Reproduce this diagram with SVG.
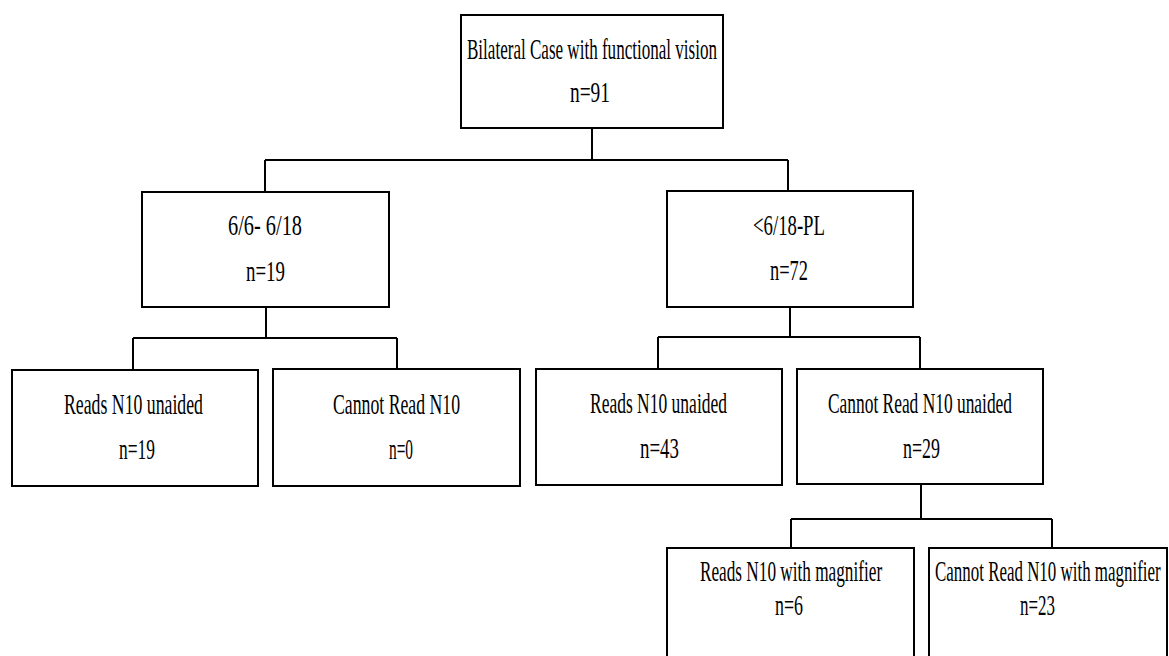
<svg xmlns="http://www.w3.org/2000/svg" width="1169" height="656" viewBox="0 0 1169 656">
<style>
.box{fill:#fff;stroke:#000;stroke-width:2}
.ln{fill:none;stroke:#000;stroke-width:2}
text{font-family:"Liberation Serif","Times New Roman",serif;font-size:30px;fill:#000}
</style>
<rect width="1169" height="656" fill="#fff"/>
<g id="connectors">
<path class="ln" d="M592,128V160M265,160H788M265,160V192M788,160V191"/>
<path class="ln" d="M266,307V338M133,338H397M133,338V370M397,338V369"/>
<path class="ln" d="M790,307V337M658,337H920M658,337V369M920,337V369"/>
<path class="ln" d="M921,484V519M791,519H1052M791,519V548M1052,519V548"/>
</g>
<g id="root">
<rect class="box" x="461" y="15" width="262" height="113"/>
<text x="467" y="59" textLength="250" lengthAdjust="spacingAndGlyphs">Bilateral Case with functional vision</text>
<text x="570" y="102" textLength="40" lengthAdjust="spacingAndGlyphs">n=91</text>
</g>
<g id="b1">
<rect class="box" x="142" y="192" width="247" height="115"/>
<text x="228" y="235" textLength="74" lengthAdjust="spacingAndGlyphs">6/6- 6/18</text>
<text x="246" y="281" textLength="39" lengthAdjust="spacingAndGlyphs">n=19</text>
</g>
<g id="b2">
<rect class="box" x="667" y="191" width="246" height="116"/>
<text x="753" y="235" textLength="72" lengthAdjust="spacingAndGlyphs">&lt;6/18-PL</text>
<text x="770" y="280" textLength="38" lengthAdjust="spacingAndGlyphs">n=72</text>
</g>
<g id="c1">
<rect class="box" x="12" y="370" width="246" height="116"/>
<text x="64" y="414" textLength="139" lengthAdjust="spacingAndGlyphs">Reads N10 unaided</text>
<text x="119" y="459" textLength="36" lengthAdjust="spacingAndGlyphs">n=19</text>
</g>
<g id="c2">
<rect class="box" x="273" y="369" width="247" height="117"/>
<text x="333" y="414" textLength="127" lengthAdjust="spacingAndGlyphs">Cannot Read N10</text>
<text x="389" y="459" textLength="24" lengthAdjust="spacingAndGlyphs">n=0</text>
</g>
<g id="c3">
<rect class="box" x="536" y="369" width="246" height="116"/>
<text x="590" y="413" textLength="137" lengthAdjust="spacingAndGlyphs">Reads N10 unaided</text>
<text x="640" y="458" textLength="39" lengthAdjust="spacingAndGlyphs">n=43</text>
</g>
<g id="c4">
<rect class="box" x="797" y="369" width="246" height="115"/>
<text x="828" y="413" textLength="184" lengthAdjust="spacingAndGlyphs">Cannot Read N10 unaided</text>
<text x="903" y="458" textLength="37" lengthAdjust="spacingAndGlyphs">n=29</text>
</g>
<g id="d1">
<rect class="box" x="667" y="548" width="247" height="122"/>
<text transform="translate(700,581) scale(0.58,1)" x="0" y="0" textLength="314" lengthAdjust="spacingAndGlyphs">Reads N10 with magnifier</text>
<text x="775" y="615" textLength="28" lengthAdjust="spacingAndGlyphs">n=6</text>
</g>
<g id="d2">
<rect class="box" x="929" y="548" width="238" height="122"/>
<text transform="translate(935,581) scale(0.56,1)" x="0" y="0" textLength="403" lengthAdjust="spacingAndGlyphs">Cannot Read N10 with magnifier</text>
<text x="1020" y="615" textLength="35" lengthAdjust="spacingAndGlyphs">n=23</text>
</g>
</svg>
